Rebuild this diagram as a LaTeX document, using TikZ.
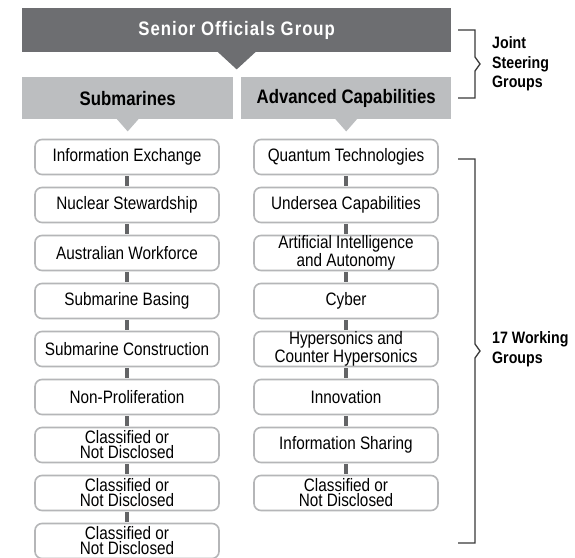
\documentclass[tikz,border=0pt]{standalone}
\usepackage{fontspec}
\setmainfont{Liberation Sans}
\newfontfamily\boxfont[FakeStretch=0.85]{Liberation Sans}
\newfontfamily\headfont[FakeStretch=0.86]{Liberation Sans}
\usetikzlibrary{calc}

\definecolor{darkbar}{HTML}{6D6E71}
\definecolor{lightbar}{HTML}{BCBEC0}
\definecolor{boxline}{HTML}{B5B6B8}
\definecolor{linkgray}{HTML}{636466}
\definecolor{brack}{HTML}{3A3A3A}

\tikzset{
  topbar/.style={fill=darkbar, text=white, inner sep=0pt, minimum height=44pt,
    font=\headfont\bfseries\addfontfeature{LetterSpace=5}\fontsize{19.5}{20}\selectfont},
  jsgbox/.style={fill=lightbar, text=black, inner sep=0pt, minimum height=42pt,
    font=\headfont\bfseries\fontsize{19.5}{20}\selectfont},
  wgbox/.style={draw=boxline, line width=1.6pt, rounded corners=7pt, fill=white,
    minimum width=184pt, minimum height=35pt, inner sep=0pt, align=center,
    font=\boxfont\fontsize{18}{15}\selectfont},
  link/.style={draw=linkgray, line width=4pt, shorten <=0.8pt, shorten >=0.8pt},
  brk/.style={draw=brack, line width=1.3pt},
  sidelabel/.style={anchor=west, align=left, inner sep=0pt,
    font=\headfont\bfseries\fontsize{16.5}{19.5}\selectfont}
}

\begin{document}
\begin{tikzpicture}[x=1pt, y=-1pt]
  \useasboundingbox (0,0) rectangle (575,557);
  \fill[white] (0,0) rectangle (575,557);
  \clip (0,0) rectangle (575,557);

  % steering groups
  \node[topbar, minimum width=429pt, anchor=north west] (sog) at (22,8) {Senior Officials Group};
  \fill[darkbar] ($(sog.south)+(-19,-0.5)$) -- ($(sog.south)+(19,-0.5)$) -- ($(sog.south)+(0,17)$) -- cycle;

  \node[jsgbox, minimum width=211pt, anchor=north west] (sub) at (22,77) {Submarines};
  \node[jsgbox, minimum width=210pt, anchor=north west] (adv) at (241,77) {Advanced Capabilities};
  \fill[lightbar] ($(sub.south)+(-11,-0.5)$) -- ($(sub.south)+(11,-0.5)$) -- ($(sub.south)+(0,12)$) -- cycle;
  \fill[lightbar] ($(adv.south)+(-11,-0.5)$) -- ($(adv.south)+(11,-0.5)$) -- ($(adv.south)+(0,12)$) -- cycle;

  % submarine working groups
  \node[wgbox] (s1) at (127,157) {Information Exchange};
  \node[wgbox] (s2) at (127,205) {Nuclear Stewardship};
  \node[wgbox] (s3) at (127,253) {Australian Workforce};
  \node[wgbox] (s4) at (127,301) {Submarine Basing};
  \node[wgbox] (s5) at (127,349) {Submarine Construction};
  \node[wgbox] (s6) at (127,397) {Non-Proliferation};
  \node[wgbox] (s7) at (127,445) {Classified or\\Not Disclosed};
  \node[wgbox] (s8) at (127,493) {Classified or\\Not Disclosed};
  \node[wgbox] (s9) at (127,541) {Classified or\\Not Disclosed};

  % advanced capabilities working groups
  \node[wgbox] (a1) at (346,157) {Quantum Technologies};
  \node[wgbox] (a2) at (346,205) {Undersea Capabilities};
  \node[wgbox] (a3) at (346,253) {Artificial Intelligence\\and Autonomy};
  \node[wgbox] (a4) at (346,301) {Cyber};
  \node[wgbox] (a5) at (346,349) {Hypersonics and\\Counter Hypersonics};
  \node[wgbox] (a6) at (346,397) {Innovation};
  \node[wgbox] (a7) at (346,445) {Information Sharing};
  \node[wgbox] (a8) at (346,493) {Classified or\\Not Disclosed};

  \foreach \i [count=\j from 2] in {1,...,8} {
    \draw[link] (s\i.south) -- (s\j.north);
  }
  \foreach \i [count=\j from 2] in {1,...,7} {
    \draw[link] (a\i.south) -- (a\j.north);
  }

  % brackets
  \coordinate (jtop) at (458,30);
  \coordinate (jbot) at (458,98);
  \coordinate (jtip) at (480,64);
  \draw[brk] (jtop) -- (475,30) -- (475,57) -- (jtip) -- (475,71) -- (475,98) -- (jbot);
  \node[sidelabel] (jsg) at (492,64) {Joint\\Steering\\Groups};

  \coordinate (wtop) at (458,159);
  \coordinate (wbot) at (458,543);
  \coordinate (wtip) at (480,351);
  \draw[brk] (wtop) -- (475,159) -- (475,344) -- (wtip) -- (475,358) -- (475,543) -- (wbot);
  \node[sidelabel] (wg) at (492,349) {17 Working\\Groups};
\end{tikzpicture}
\end{document}
